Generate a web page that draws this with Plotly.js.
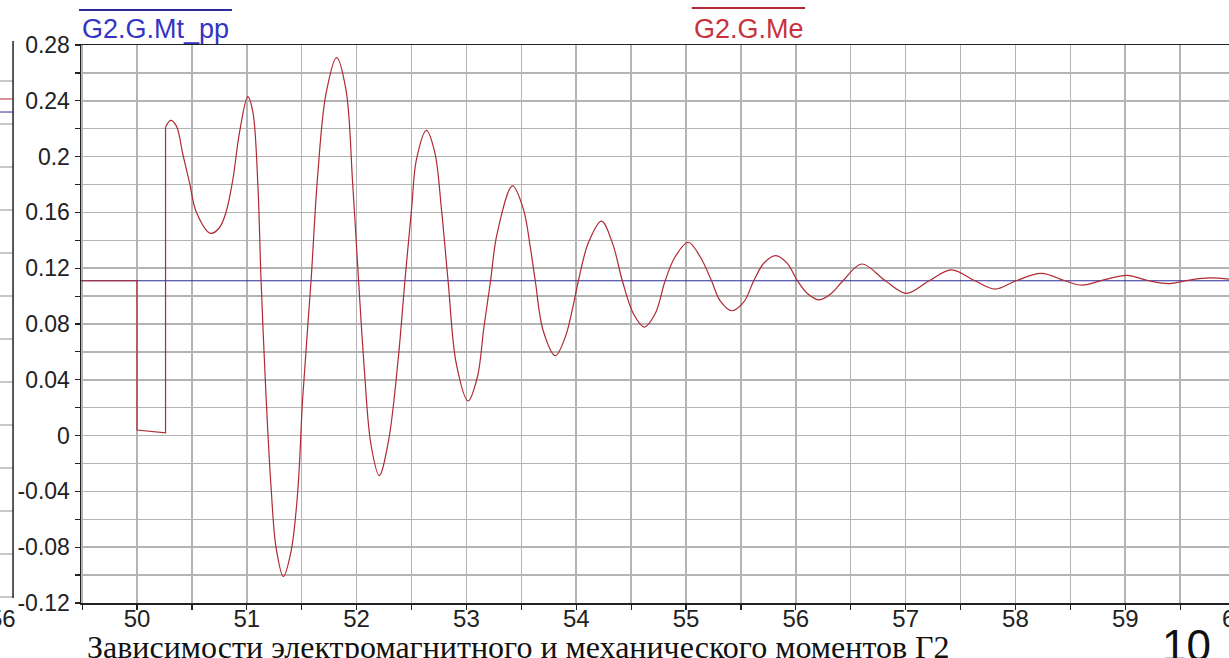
<!DOCTYPE html>
<html>
<head>
<meta charset="utf-8">
<script src="https://cdn.plot.ly/plotly-3.0.1.min.js"></script>
<style>
html,body{margin:0;padding:0;background:#fff;}
#chart{width:1229px;height:658px;}
</style>
</head>
<body>
<div id="chart"></div>
<script>
// ---- data ----
const mtName = "G2.G.Mt_pp";
const meName = "G2.G.Me";

const mtT = [49.49, 59.945];
const mtV = [0.111, 0.111];

// step part of G2.G.Me (before the oscillation)
const meStepT = [49.49, 50.0, 50.0, 50.26, 50.26];
const meStepV = [0.111, 0.111, 0.004, 0.002, 0.221];

// oscillating part of G2.G.Me
const meT = [50.26, 50.306, 50.358, 50.418, 50.479, 50.539, 50.67, 50.75, 50.812, 50.873, 50.933,
  51.009, 51.055, 51.10, 51.13, 51.176, 51.221, 51.267, 51.333, 51.403, 51.464, 51.509, 51.585,
  51.645, 51.721, 51.818, 51.903, 51.964, 52.018, 52.07, 52.13, 52.206, 52.29, 52.38, 52.44,
  52.5, 52.545, 52.636, 52.712, 52.773, 52.833, 52.909, 53.015, 53.1, 53.16, 53.22, 53.28,
  53.42, 53.52, 53.58, 53.627, 53.70, 53.81, 53.9, 53.97, 54.02, 54.11, 54.23, 54.33, 54.42,
  54.52, 54.62, 54.72, 54.81, 54.9, 55.02, 55.13, 55.232, 55.31, 55.417, 55.525, 55.617, 55.71,
  55.817, 55.92, 56.015, 56.108, 56.215, 56.32, 56.43, 56.6, 56.815, 57.006, 57.215, 57.415,
  57.63, 57.815, 58.006, 58.237, 58.45, 58.605, 58.82, 59.015, 59.215, 59.4, 59.585, 59.77, 59.945];
const meV = [0.221, 0.226, 0.222, 0.2015, 0.181, 0.1605, 0.145, 0.149, 0.1605, 0.1836, 0.217,
  0.243, 0.232, 0.181, 0.111, 0.027, -0.037, -0.0805, -0.101, -0.083, -0.040, 0.027, 0.111,
  0.186, 0.245, 0.271, 0.248, 0.181, 0.111, 0.048, -0.006, -0.0287, -0.004, 0.056, 0.111,
  0.162, 0.198, 0.2188, 0.203, 0.162, 0.111, 0.051, 0.0248, 0.042, 0.078, 0.111, 0.145,
  0.179, 0.162, 0.136, 0.111, 0.075, 0.0573, 0.0706, 0.0923, 0.111, 0.138, 0.1537, 0.138, 0.111,
  0.0875, 0.0778, 0.0875, 0.111, 0.128, 0.1386, 0.128, 0.111, 0.0968, 0.0895, 0.0956, 0.111, 0.1237,
  0.129, 0.1237, 0.111, 0.1017, 0.0973, 0.1017, 0.111, 0.123, 0.111, 0.102, 0.111, 0.1188,
  0.111, 0.105, 0.111, 0.1163, 0.111, 0.1078, 0.112, 0.1149, 0.111, 0.109, 0.1115, 0.113, 0.1122];

const xTickVals = [50, 51, 52, 53, 54, 55, 56, 57, 58, 59];
const xTickText = ["50", "51", "52", "53", "54", "55", "56", "57", "58", "59"];
const yTickVals = [0.28, 0.24, 0.2, 0.16, 0.12, 0.08, 0.04, 0, -0.04, -0.08, -0.12];
const yTickText = ["0.28", "0.24", "0.2", "0.16", "0.12", "0.08", "0.04", "0", "-0.04", "-0.08", "-0.12"];

const captionText = "Зависимости электромагнитного и механического моментов Г2";
const pageNumber = "10";
const leftChartTick = "56";
const rightCutTick = "60";

// ---- styles ----
const RED = "#b02a33";
const BLUE = "#2b2b98";
const GRID = "#b4b4b4";

const traces = [
  {x: mtT, y: mtV, mode: "lines", name: mtName, line: {color: BLUE, width: 1.2}, hoverinfo: "skip"},
  {x: meStepT, y: meStepV, mode: "lines", name: meName, line: {color: RED, width: 1.2}, hoverinfo: "skip"},
  {x: meT, y: meV, mode: "lines", name: meName, line: {color: RED, width: 1.2, shape: "spline", smoothing: 1}, hoverinfo: "skip"}
];

// decorative fragment of the neighbouring chart on the left
const shapes = [
  {type: "line", xref: "paper", yref: "paper", x0: -0.0017, x1: 0.1315, y0: 1.0627, y1: 1.0627, line: {color: BLUE, width: 2}},
  {type: "line", xref: "paper", yref: "paper", x0: 0.532, x1: 0.6307, y0: 1.0663, y1: 1.0663, line: {color: RED, width: 2}},
  {type: "line", xref: "paper", yref: "paper", x0: -0.0592, x1: -0.0592, y0: 1.0072, y1: 0.009, line: {color: "#222", width: 1.5}},
  {type: "line", xref: "paper", yref: "paper", x0: -0.0706, x1: -0.0592, y0: 0.9032, y1: 0.9032, line: {color: RED, width: 1}},
  {type: "line", xref: "paper", yref: "paper", x0: -0.0706, x1: -0.0592, y0: 0.8799, y1: 0.8799, line: {color: BLUE, width: 1}}
];
const leftGridPix = [81, 124, 167, 210, 253, 296, 339, 382, 425, 468, 511, 554, 597];
leftGridPix.forEach(p => {
  shapes.push({type: "line", xref: "paper", yref: "paper", x0: -0.0706, x1: -0.0592,
    y0: (603 - p) / 558, y1: (603 - p) / 558, line: {color: GRID, width: 1.5}, layer: "below"});
});

const layout = {
  width: 1229, height: 658,
  margin: {l: 81, r: 0, t: 45, b: 55, pad: 0},
  paper_bgcolor: "#ffffff",
  plot_bgcolor: "#ffffff",
  showlegend: false,
  font: {family: "Liberation Sans, Arial, sans-serif", color: "#222", size: 23},
  xaxis: {
    range: [49.49, 59.945],
    tickmode: "array", tickvals: xTickVals, ticktext: xTickText,
    ticks: "outside", ticklen: 5, tickwidth: 1.2, tickcolor: "#222",
    tickfont: {size: 24, color: "#222"},
    ticklabelstandoff: -11,
    showgrid: true, gridcolor: GRID, gridwidth: 1.5,
    minor: {dtick: 0.5, tick0: 50, ticks: "outside", ticklen: 5, tickcolor: "#222", showgrid: true, gridcolor: GRID, gridwidth: 1.5},
    showline: true, linecolor: "#222", linewidth: 1.5, mirror: true,
    zeroline: false, fixedrange: true
  },
  yaxis: {
    range: [-0.12, 0.28],
    tickmode: "array", tickvals: yTickVals, ticktext: yTickText,
    ticks: "outside", ticklen: 5, tickwidth: 1.2, tickcolor: "#222",
    tickfont: {size: 23, color: "#222"},
    showgrid: true, gridcolor: GRID, gridwidth: 1.5,
    minor: {dtick: 0.02, tick0: 0, ticks: "outside", ticklen: 5, tickcolor: "#222", showgrid: true, gridcolor: GRID, gridwidth: 1.5},
    showline: true, linecolor: "#222", linewidth: 1.5, mirror: false,
    zeroline: false, fixedrange: true
  },
  shapes: shapes,
  annotations: [
    {xref: "paper", yref: "paper", x: -0.001, y: 1.0287, xanchor: "left", yanchor: "middle", showarrow: false,
     text: mtName, font: {family: "Liberation Sans, Arial, sans-serif", size: 27, color: "#3434c4"}},
    {xref: "paper", yref: "paper", x: 0.532, y: 1.0287, xanchor: "left", yanchor: "middle", showarrow: false,
     text: meName, font: {family: "Liberation Sans, Arial, sans-serif", size: 27, color: "#c8323c"}},
    {xref: "paper", yref: "paper", x: 0.0035, y: -0.079, xanchor: "left", yanchor: "middle", showarrow: false,
     text: captionText, font: {family: "Liberation Serif, Times New Roman, serif", size: 32, color: "#111"}},
    {xref: "paper", yref: "paper", x: 0.94, y: -0.028, xanchor: "left", yanchor: "top", showarrow: false,
     text: pageNumber, font: {family: "Liberation Sans, Arial, sans-serif", size: 44, color: "#111"}},
    {xref: "paper", yref: "paper", x: -0.068, y: 0.0, xanchor: "center", yanchor: "top", showarrow: false,
     text: leftChartTick, font: {family: "Liberation Sans, Arial, sans-serif", size: 24, color: "#222"}},
    {xref: "paper", yref: "paper", x: 1.0053, y: 0.0, xanchor: "center", yanchor: "top", showarrow: false,
     text: rightCutTick, font: {family: "Liberation Sans, Arial, sans-serif", size: 24, color: "#222"}}
  ]
};

Plotly.newPlot("chart", traces, layout, {staticPlot: true, displayModeBar: false});
</script>
</body>
</html>
